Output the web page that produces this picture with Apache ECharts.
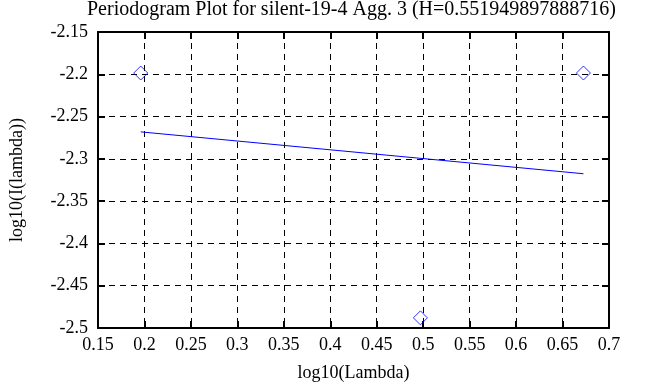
<!DOCTYPE html>
<html>
<head>
<meta charset="utf-8">
<script src="https://cdn.jsdelivr.net/npm/echarts@6/dist/echarts.min.js"></script>
<style>html,body{margin:0;padding:0;background:#fff;}#c{width:663px;height:387px;}</style>
</head>
<body>
<div id="c"></div>
<script>
const titleText = 'Periodogram Plot for silent-19-4 Agg. 3 (H=0.551949897888716)';
const xName = 'log10(Lambda)';
const yName = 'log10(I(lambda))';
const pointX = [0.196, 0.497, 0.6725];
const pointY = [-2.1985, -2.488, -2.1985];
const fitX = [0.196, 0.6725];
const fitY = [-2.2681, -2.3176];
const xMin = 0.15, xMax = 0.7, xStep = 0.05;
const yMin = -2.5, yMax = -2.15, yStep = 0.05;

const font = 'Liberation Serif';
const fmt = v => String(parseFloat(v.toFixed(2)));
const chart = echarts.init(document.getElementById('c'));
const axisLine = {show: true, onZero: false, lineStyle: {color: '#000', width: 2}};
const tick = {show: true, inside: true, length: 7, lineStyle: {color: '#000', width: 2}};
const split = {show: true, lineStyle: {color: '#000', width: 1, type: [6, 5]}};
chart.setOption({
  animation: false,
  backgroundColor: '#fff',
  title: {text: titleText, left: 87, top: 0, padding: 0,
    textStyle: {fontFamily: font, fontSize: 20, fontWeight: 'normal', color: '#000'}},
  grid: {left: 91, right: 54, top: 32, bottom: 56},
  xAxis: [
    {type: 'value', min: xMin, max: xMax, interval: xStep, position: 'bottom',
     name: xName, nameLocation: 'middle', nameGap: 36,
     nameTextStyle: {fontFamily: font, fontSize: 18, color: '#000'},
     axisLine: axisLine, axisTick: tick, splitLine: split,
     axisLabel: {formatter: fmt, fontFamily: font, fontSize: 18, color: '#000', margin: 8}},
    {type: 'value', min: xMin, max: xMax, interval: xStep, position: 'top',
     axisLine: axisLine, axisTick: tick, splitLine: {show: false}, axisLabel: {show: false}}
  ],
  yAxis: [
    {type: 'value', min: yMin, max: yMax, interval: yStep, position: 'left',
     name: yName, nameLocation: 'middle', nameGap: 72,
     nameTextStyle: {fontFamily: font, fontSize: 18, color: '#000'},
     axisLine: axisLine, axisTick: tick, splitLine: split,
     axisLabel: {formatter: fmt, fontFamily: font, fontSize: 18, color: '#000', margin: 10}},
    {type: 'value', min: yMin, max: yMax, interval: yStep, position: 'right',
     axisLine: axisLine, axisTick: tick, splitLine: {show: false}, axisLabel: {show: false}}
  ],
  series: [
    {type: 'line', data: fitX.map((x, i) => [x, fitY[i]]), showSymbol: false,
     lineStyle: {color: '#0000ff', width: 1}, z: 3},
    {type: 'scatter', data: pointX.map((x, i) => [x, pointY[i]]), symbol: 'diamond', symbolSize: 14,
     itemStyle: {color: 'rgba(0,0,0,0)', borderColor: '#0000ff', borderWidth: 1}, z: 4}
  ]
});
</script>
</body>
</html>
